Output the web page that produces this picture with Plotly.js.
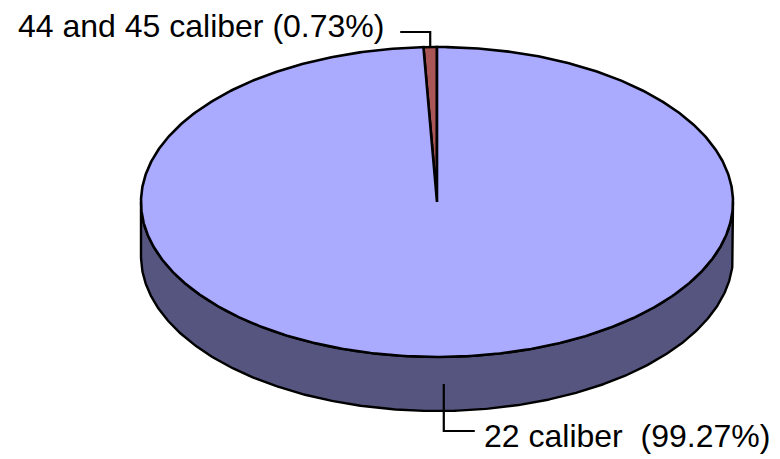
<!DOCTYPE html>
<html>
<head>
<meta charset="utf-8">
<script src="https://cdn.plot.ly/plotly-3.0.1.min.js"></script>
<style>html,body{margin:0;padding:0;background:#fff;}#chart{width:780px;height:459px;}</style>
</head>
<body>
<div id="chart"></div>
<script>
// ---- data ----
var categories = ['44 and 45 caliber', '22 caliber'];
var values = [0.73, 99.27];
var labelTexts = ['44 and 45 caliber (0.73%)', '22 caliber\u00a0\u00a0(99.27%)'];
var topColors = ['#AA5656', '#AAAAFF'];
var sideColors = ['#552B2B', '#555580'];

// ---- geometry (pixel-space axes) ----
var CX = 437, CY = 202, RX = 296, RY = 155, DEPTH = 54;
var FONT = {family: 'Arial, "Liberation Sans", sans-serif', size: 32, color: '#000'};

function pt(deg, dy) {
  var r = deg * Math.PI / 180;
  return [CX + RX * Math.cos(r), CY - RY * Math.sin(r) + (dy || 0)];
}
function arc(a0, a1, dy) {
  var n = Math.max(2, Math.ceil(Math.abs(a1 - a0) / 0.5));
  var xs = [], ys = [];
  for (var i = 0; i <= n; i++) {
    var p = pt(a0 + (a1 - a0) * i / n, dy);
    xs.push(p[0]); ys.push(p[1]);
  }
  return [xs, ys];
}

var total = values.reduce(function (a, b) { return a + b; }, 0);
var slices = [];
var start = 90;
values.forEach(function (v, i) {
  var sweep = v / total * 360;
  slices.push({start: start, end: start + sweep, mid: start + sweep / 2});
  start += sweep;
});

var traces = [];
// side walls (visible front part: angles 180..360 mod 360)
slices.forEach(function (s, i) {
  [0, 360].forEach(function (off) {
    var a0 = Math.max(s.start, 180 + off), a1 = Math.min(s.end, 360 + off);
    if (a1 > a0) {
      var t = arc(a0, a1, 0), b = arc(a1, a0, DEPTH);
      traces.push({
        type: 'scatter', mode: 'lines', x: t[0].concat(b[0], [t[0][0]]), y: t[1].concat(b[1], [t[1][0]]),
        fill: 'toself', fillcolor: sideColors[i], line: {color: '#000', width: 2.4},
        hoverinfo: 'skip', showlegend: false
      });
    }
  });
});
// top faces
slices.forEach(function (s, i) {
  var a = arc(s.start, s.end, 0);
  traces.push({
    type: 'scatter', mode: 'lines',
    x: [CX].concat(a[0], [CX]), y: [CY].concat(a[1], [CY]),
    fill: 'toself', fillcolor: topColors[i], line: {color: '#000', width: 2.6},
    hoverinfo: 'skip', showlegend: false
  });
});

// leader lines and labels
var annotations = [];
// slice 0: from top edge up, then left
var p0 = pt(slices[0].mid, 0);
traces.push({type: 'scatter', mode: 'lines', x: [p0[0], p0[0], p0[0] - 30], y: [p0[1], 32, 32],
  line: {color: '#000', width: 2.2}, hoverinfo: 'skip', showlegend: false});
annotations.push({x: p0[0] - 44, y: 26, xref: 'x', yref: 'y', text: labelTexts[0], showarrow: false,
  xanchor: 'right', yanchor: 'middle', font: FONT});
// slice 1: from middle of side wall down, then right
var p1 = pt(slices[1].mid, DEPTH / 2);
traces.push({type: 'scatter', mode: 'lines', x: [p1[0], p1[0], p1[0] + 31], y: [p1[1], 431, 431],
  line: {color: '#000', width: 2.2}, hoverinfo: 'skip', showlegend: false});
annotations.push({x: p1[0] + 38, y: 436, xref: 'x', yref: 'y', text: labelTexts[1], showarrow: false,
  xanchor: 'left', yanchor: 'middle', font: FONT});

var layout = {
  width: 780, height: 459,
  margin: {l: 0, r: 0, t: 0, b: 0},
  paper_bgcolor: '#fff', plot_bgcolor: '#fff',
  xaxis: {range: [0, 780], visible: false, fixedrange: true},
  yaxis: {range: [459, 0], visible: false, fixedrange: true},
  annotations: annotations,
  showlegend: false
};
Plotly.newPlot('chart', traces, layout, {staticPlot: true});
</script>
</body>
</html>
